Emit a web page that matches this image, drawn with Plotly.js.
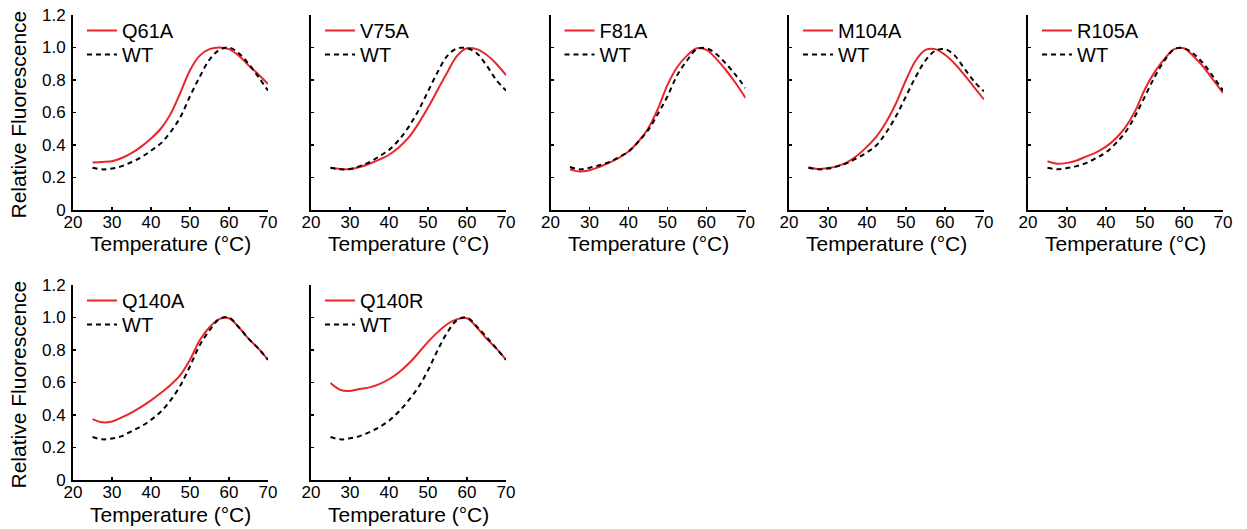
<!DOCTYPE html>
<html>
<head>
<meta charset="utf-8">
<script src="https://cdn.plot.ly/plotly-3.0.1.min.js"></script>
<style>html,body{margin:0;padding:0;background:#fff;}#chart{width:1247px;height:529px;}</style>
</head>
<body>
<div id="chart"></div>
<script>
// ---- data ----
const mutants = ["Q61A", "V75A", "F81A", "M104A", "R105A", "Q140A", "Q140R"];
const temps = [25, 27.5, 30, 32.5, 35, 37.5, 40, 42.5, 45, 47.5, 50, 52.5, 55, 57.5, 60, 62.5, 65, 67.5, 70];

const mutQ61A  = [0.293, 0.296, 0.30, 0.32, 0.35, 0.39, 0.44, 0.50, 0.59, 0.72, 0.86, 0.95, 0.99, 1.00, 0.99, 0.95, 0.89, 0.835, 0.775];
const mutV75A  = [0.26, 0.252, 0.252, 0.265, 0.285, 0.31, 0.34, 0.385, 0.445, 0.53, 0.63, 0.74, 0.85, 0.95, 0.995, 0.99, 0.955, 0.90, 0.83];
const mutF81A  = [0.25, 0.237, 0.245, 0.265, 0.29, 0.32, 0.36, 0.42, 0.50, 0.62, 0.77, 0.88, 0.95, 0.995, 0.985, 0.93, 0.86, 0.78, 0.69];
const mutM104A = [0.263, 0.252, 0.258, 0.27, 0.295, 0.335, 0.39, 0.455, 0.545, 0.66, 0.80, 0.92, 0.985, 0.99, 0.955, 0.90, 0.83, 0.755, 0.68];
const mutR105A = [0.30, 0.285, 0.29, 0.305, 0.33, 0.355, 0.39, 0.44, 0.51, 0.61, 0.745, 0.85, 0.93, 0.99, 0.995, 0.945, 0.88, 0.80, 0.72];
const mutQ140A = [0.375, 0.355, 0.36, 0.385, 0.415, 0.45, 0.49, 0.535, 0.585, 0.645, 0.74, 0.86, 0.94, 0.99, 0.995, 0.94, 0.87, 0.81, 0.74];
const mutQ140R = [0.597, 0.555, 0.548, 0.56, 0.57, 0.59, 0.62, 0.662, 0.715, 0.78, 0.85, 0.91, 0.96, 0.99, 0.995, 0.94, 0.87, 0.81, 0.74];

const wtQ61A  = [0.26, 0.25, 0.255, 0.27, 0.295, 0.325, 0.365, 0.41, 0.48, 0.57, 0.70, 0.82, 0.925, 0.985, 1.00, 0.965, 0.90, 0.82, 0.735];
const wtV75A  = [0.26, 0.25, 0.252, 0.27, 0.295, 0.33, 0.37, 0.43, 0.51, 0.61, 0.73, 0.85, 0.95, 0.995, 0.995, 0.965, 0.89, 0.80, 0.735];
const wtF81A  = [0.265, 0.25, 0.26, 0.275, 0.295, 0.325, 0.36, 0.42, 0.49, 0.59, 0.70, 0.83, 0.92, 0.99, 0.995, 0.96, 0.90, 0.83, 0.75];
const wtM104A = [0.26, 0.25, 0.255, 0.27, 0.29, 0.32, 0.355, 0.40, 0.48, 0.58, 0.70, 0.82, 0.92, 0.98, 0.99, 0.95, 0.87, 0.79, 0.73];
const wtR105A = [0.26, 0.25, 0.258, 0.27, 0.29, 0.32, 0.355, 0.41, 0.48, 0.58, 0.70, 0.82, 0.92, 0.99, 0.995, 0.96, 0.90, 0.82, 0.735];
const wtQ140A = [0.265, 0.25, 0.255, 0.27, 0.30, 0.33, 0.37, 0.42, 0.49, 0.58, 0.70, 0.83, 0.92, 0.99, 1.00, 0.94, 0.87, 0.81, 0.74];
const wtQ140R = [0.265, 0.25, 0.257, 0.27, 0.295, 0.325, 0.365, 0.42, 0.49, 0.57, 0.675, 0.80, 0.91, 0.985, 1.00, 0.945, 0.88, 0.81, 0.74];

const mutValues = [mutQ61A, mutV75A, mutF81A, mutM104A, mutR105A, mutQ140A, mutQ140R];
const wtValues  = [wtQ61A, wtV75A, wtF81A, wtM104A, wtR105A, wtQ140A, wtQ140R];

const xTickVals = [20, 30, 40, 50, 60, 70];
const xTickText = ["20", "30", "40", "50", "60", "70"];
const yTickVals = [0, 0.2, 0.4, 0.6, 0.8, 1.0, 1.2];
const yTickText = ["0", "0.2", "0.4", "0.6", "0.8", "1.0", "1.2"];
const xTitle = "Temperature (°C)";
const yTitle = "Relative Fluorescence";

// ---- layout ----
const W = 1247, H = 529;
const panelLeft = [73, 311, 550.5, 789, 1028, 73, 311];
const panelTop  = [15, 15, 15, 15, 15, 285, 285];
const PW = 195, PH = 195;
const FONT = "Liberation Sans, Arial, sans-serif";

const traces = [];
const annotations = [];
const layout = {
  width: W, height: H,
  margin: {l: 0, r: 0, t: 0, b: 0},
  paper_bgcolor: "#fff", plot_bgcolor: "rgba(0,0,0,0)",
  showlegend: true,
  font: {family: FONT, color: "#000"},
  annotations: annotations
};

function legendCfg(i, lineOffset) {
  return {
    x: (panelLeft[i] + 9) / W, y: 1 - (panelTop[i] + lineOffset - 18) / H,
    xanchor: "left", yanchor: "top",
    bgcolor: "rgba(0,0,0,0)", borderwidth: 0,
    font: {size: 20, family: FONT, color: "#000"},
    tracegroupgap: 0, itemwidth: 30
  };
}

mutants.forEach((m, i) => {
  const n = i + 1;
  const xa = n === 1 ? "x" : "x" + n;
  const ya = n === 1 ? "y" : "y" + n;
  const lgA = "legend" + (2 * i + 1 === 1 ? "" : 2 * i + 1);
  const lgB = "legend" + (2 * i + 2);
  traces.push({
    x: temps, y: mutValues[i], xaxis: xa, yaxis: ya, legend: lgA,
    name: m, mode: "lines", line: {color: "#e8262b", width: 2, shape: "spline", smoothing: 1.0},
    hoverinfo: "skip"
  });
  traces.push({
    x: temps, y: wtValues[i], xaxis: xa, yaxis: ya, legend: lgB,
    name: "WT", mode: "lines", line: {color: "#000", width: 2, dash: "5px,4px", shape: "spline", smoothing: 1.0},
    hoverinfo: "skip"
  });
  const x0 = panelLeft[i] / W, x1 = (panelLeft[i] + PW) / W;
  const y1 = 1 - panelTop[i] / H, y0 = 1 - (panelTop[i] + PH) / H;
  const showY = (i === 0 || i === 5);
  layout["xaxis" + (n === 1 ? "" : n)] = {
    domain: [x0, x1], anchor: ya, range: [20, 70],
    tickvals: xTickVals, ticktext: xTickText,
    ticks: "inside", ticklen: 3, tickwidth: 1.5, tickcolor: "#000",
    ticklabelstandoff: -4,
    showline: true, linewidth: 2, linecolor: "#000", mirror: false,
    showgrid: false, zeroline: false, fixedrange: true,
    tickfont: {size: 17, family: FONT, color: "#000"}
  };
  layout["yaxis" + (n === 1 ? "" : n)] = {
    domain: [y0, y1], anchor: xa, range: [0, 1.2],
    tickvals: yTickVals, ticktext: yTickText, showticklabels: showY,
    ticks: "inside", ticklen: 3, tickwidth: 1.5, tickcolor: "#000",
    ticklabelstandoff: 2,
    showline: true, linewidth: 2, linecolor: "#000", mirror: false,
    showgrid: false, zeroline: false, fixedrange: true,
    tickfont: {size: 17, family: FONT, color: "#000"}
  };
  layout[lgA] = legendCfg(i, 14);
  layout[lgB] = legendCfg(i, 38);
  // axis titles
  annotations.push({
    text: xTitle, xref: "paper", yref: "paper", showarrow: false,
    x: (panelLeft[i] + PW / 2) / W, y: 1 - (panelTop[i] + PH + 34) / H,
    xanchor: "center", yanchor: "middle",
    font: {size: 21, family: FONT, color: "#000"}
  });
  if (showY) {
    annotations.push({
      text: yTitle, xref: "paper", yref: "paper", showarrow: false, textangle: -90,
      x: 18 / W, y: 1 - (panelTop[i] + PH / 2 + 2) / H,
      xanchor: "center", yanchor: "middle",
      font: {size: 21, family: FONT, color: "#000"}
    });
  }
});

Plotly.newPlot("chart", traces, layout, {staticPlot: true, displayModeBar: false});
</script>
</body>
</html>
